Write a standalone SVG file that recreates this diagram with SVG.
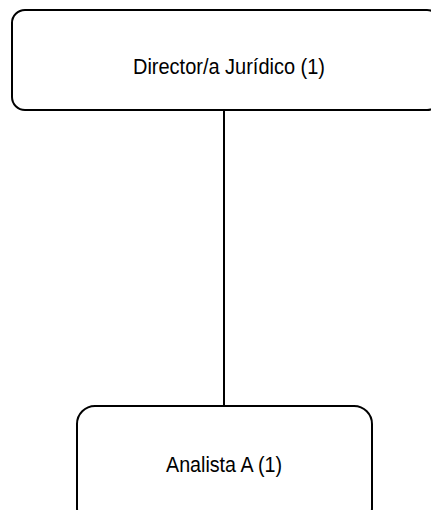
<svg xmlns="http://www.w3.org/2000/svg" width="431" height="510" viewBox="0 0 431 510">
  <style>
    .box { fill: #ffffff; stroke: #000000; stroke-width: 2; }
    .label { font-family: "Liberation Sans", Arial, sans-serif; font-size: 22px; fill: #000000; text-anchor: middle; }
    .edge { stroke: #000000; stroke-width: 2; fill: none; }
  </style>
  <rect width="431" height="510" fill="#ffffff"/>
  <g id="connectors">
    <line class="edge" x1="224" y1="110" x2="224" y2="406"/>
  </g>
  <g id="director">
    <rect class="box" x="12" y="10" width="428" height="100" rx="13" ry="13"/>
    <text class="label" x="229" y="74" textLength="192" lengthAdjust="spacingAndGlyphs">Director/a Jurídico (1)</text>
  </g>
  <g id="analista">
    <rect class="box" x="77" y="406" width="295" height="120" rx="18" ry="18"/>
    <text class="label" x="224" y="472" textLength="116" lengthAdjust="spacingAndGlyphs">Analista A (1)</text>
  </g>
</svg>
